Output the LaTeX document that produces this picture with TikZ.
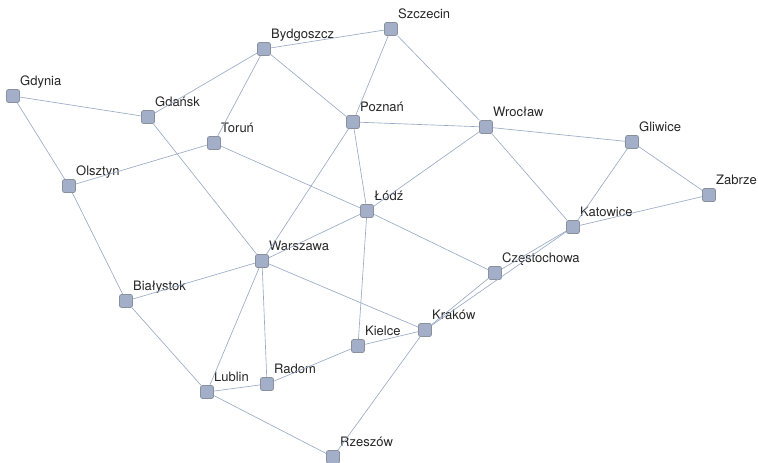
\documentclass[tikz,border=0pt]{standalone}
\usepackage{fontspec}
\setmainfont{TeX Gyre Heros}
\usetikzlibrary{arrows}
\definecolor{cityfill}{HTML}{A3AFC8}
\definecolor{cityline}{HTML}{8A909C}
\definecolor{roadline}{HTML}{9AAAC6}

\begin{document}
\begin{tikzpicture}[x=1pt,y=-1pt,-,line width=0.65pt,draw=roadline]
  \tikzstyle{city}=[rectangle,rounded corners=2pt,draw=cityline,fill=cityfill,
                    minimum size=13pt,inner sep=0pt,line width=0.7pt]
  \tikzstyle{every label}=[anchor=base west,yshift=3.5pt,inner sep=0pt,
                    text=black!85,font=\fontsize{13}{15}\selectfont]
  \useasboundingbox (0,0) rectangle (758,463);

  \node[city,label=north east:Gdynia]      (GDY) at (13,96)   {};
  \node[city,label=north east:Gdańsk]      (GDA) at (148,117) {};
  \node[city,label=north east:Bydgoszcz]   (BYD) at (264,49)  {};
  \node[city,label=north east:Szczecin]    (SZC) at (391,29)  {};
  \node[city,label=north east:Toruń]       (TOR) at (214,143) {};
  \node[city,label=north east:Poznań]      (POZ) at (353,122) {};
  \node[city,label=north east:Wrocław]     (WRO) at (486,127) {};
  \node[city,label=north east:Gliwice]     (GLI) at (632,142) {};
  \node[city,label=north east:Zabrze]      (ZAB) at (709,195) {};
  \node[city,label=north east:Olsztyn]     (OLS) at (69,186)  {};
  \node[city,label=north east:Łódź]        (LOD) at (367,211) {};
  \node[city,label=north east:Katowice]    (KAT) at (573,227) {};
  \node[city,label=north east:Warszawa]    (WAW) at (262,261) {};
  \node[city,label=north east:Częstochowa] (CZE) at (495,273) {};
  \node[city,label=north east:Białystok]   (BIA) at (126,301) {};
  \node[city,label=north east:Kraków]      (KRA) at (425,330) {};
  \node[city,label=north east:Kielce]      (KIE) at (358,346) {};
  \node[city,label=north east:Radom]       (RAD) at (267,384) {};
  \node[city,label=north east:Lublin]      (LUB) at (207,392) {};
  \node[city,label=north east:Rzeszów]     (RZE) at (333,457) {};

  \path
(GDY) edge (GDA)
(GDY) edge (OLS)
(GDA) edge (BYD)
(GDA) edge (WAW)
(BYD) edge (SZC)
(BYD) edge (TOR)
(BYD) edge (POZ)
(SZC) edge (POZ)
(SZC) edge (WRO)
(OLS) edge (TOR)
(OLS) edge (BIA)
(TOR) edge (LOD)
(POZ) edge (WRO)
(POZ) edge (LOD)
(POZ) edge (WAW)
(WRO) edge (GLI)
(WRO) edge (LOD)
(WRO) edge (KAT)
(GLI) edge (KAT)
(GLI) edge (ZAB)
(ZAB) edge (KAT)
(LOD) edge (WAW)
(LOD) edge (CZE)
(LOD) edge (KIE)
(KAT) edge (CZE)
(KAT) edge (KRA)
(CZE) edge (KRA)
(WAW) edge (BIA)
(WAW) edge (KRA)
(WAW) edge (LUB)
(WAW) edge (RAD)
(BIA) edge (LUB)
(KRA) edge (KIE)
(KRA) edge (RZE)
(KIE) edge (RAD)
(RAD) edge (LUB)
(LUB) edge (RZE);
\end{tikzpicture}
\end{document}
